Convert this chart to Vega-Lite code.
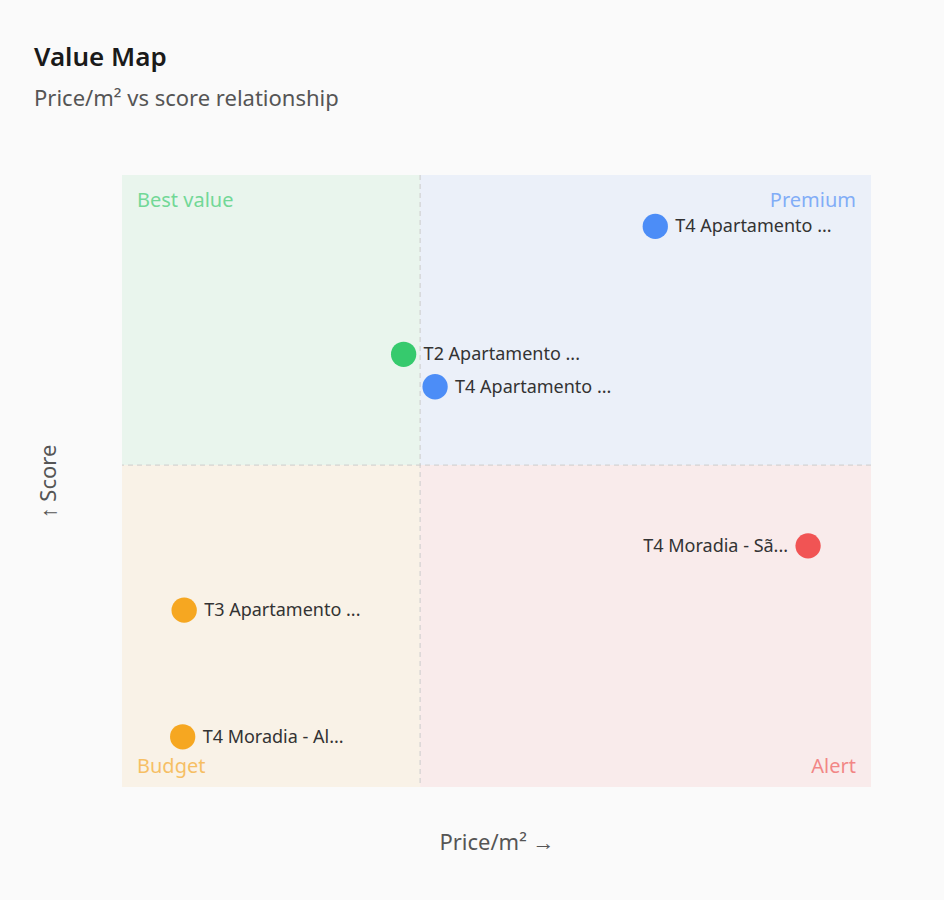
{
  "$schema": "https://vega.github.io/schema/vega-lite/v6.json",
  "width": 749,
  "height": 612,
  "autosize": {"type": "none"},
  "padding": {"left": 122, "top": 175, "right": 73, "bottom": 113},
  "background": "#fafafa",
  "title": {
    "text": "Value Map",
    "subtitle": "Price/m² vs score relationship",
    "anchor": "start",
    "frame": "group",
    "dx": -88,
    "offset": 65,
    "subtitlePadding": 18,
    "font": "Noto Sans",
    "fontSize": 26,
    "fontWeight": 600,
    "color": "#1a1a1a",
    "subtitleFont": "Noto Sans",
    "subtitleFontSize": 22,
    "subtitleFontWeight": "normal",
    "subtitleColor": "#555555"
  },
  "config": {
    "view": {"stroke": null},
    "font": "Noto Sans"
  },
  "datasets": {
    "quadrants": [
      {"quadrant": "Best value", "x1": 0, "x2": 39.8, "y1": 52.6, "y2": 100},
      {"quadrant": "Premium", "x1": 39.8, "x2": 100, "y1": 52.6, "y2": 100},
      {"quadrant": "Budget", "x1": 0, "x2": 39.8, "y1": 0, "y2": 52.6},
      {"quadrant": "Alert", "x1": 39.8, "x2": 100, "y1": 0, "y2": 52.6}
    ],
    "splits": [{"price": 39.8, "score": 52.6}],
    "points": [
      {"name": "T4 Apartamento ...", "price": 71.2, "score": 91.6, "quadrant": "Premium"},
      {"name": "T2 Apartamento ...", "price": 37.6, "score": 70.7, "quadrant": "Best value"},
      {"name": "T4 Apartamento ...", "price": 41.8, "score": 65.4, "quadrant": "Premium"},
      {"name": "T4 Moradia - Sã...", "price": 91.6, "score": 39.4, "quadrant": "Alert"},
      {"name": "T3 Apartamento ...", "price": 8.3, "score": 28.9, "quadrant": "Budget"},
      {"name": "T4 Moradia - Al...", "price": 8.1, "score": 8.2, "quadrant": "Budget"}
    ]
  },
  "layer": [
    {
      "data": {"name": "quadrants"},
      "mark": {"type": "rect", "opacity": 0.08},
      "encoding": {
        "x": {"field": "x1", "type": "quantitative", "scale": {"domain": [0, 100], "nice": false, "zero": false},
              "axis": {"title": "Price/m² →", "labels": false, "ticks": false, "domain": false, "grid": false,
                       "titleFont": "Noto Sans", "titleFontSize": 22, "titleFontWeight": "normal", "titleColor": "#555555", "titlePadding": 45}},
        "x2": {"field": "x2"},
        "y": {"field": "y1", "type": "quantitative", "scale": {"domain": [0, 100], "nice": false, "zero": false},
              "axis": {"title": "↑ Score", "labels": false, "ticks": false, "domain": false, "grid": false,
                       "titleFont": "Noto Sans", "titleFontSize": 22, "titleFontWeight": "normal", "titleColor": "#555555", "titlePadding": 62}},
        "y2": {"field": "y2"},
        "color": {"field": "quadrant", "type": "nominal", "legend": null,
                  "scale": {"domain": ["Best value", "Premium", "Budget", "Alert"], "range": ["#22c55e", "#3b82f6", "#f59e0b", "#ef4444"]}}
      }
    },
    {
      "data": {"name": "splits"},
      "mark": {"type": "rule", "color": "#cccccc", "strokeDash": [5, 4], "strokeWidth": 1},
      "encoding": {"x": {"field": "price", "type": "quantitative"}}
    },
    {
      "data": {"name": "splits"},
      "mark": {"type": "rule", "color": "#cccccc", "strokeDash": [5, 4], "strokeWidth": 1},
      "encoding": {"y": {"field": "score", "type": "quantitative"}}
    },
    {
      "data": {"name": "quadrants"},
      "transform": [{"filter": "datum.quadrant == 'Best value'"}],
      "mark": {"type": "text", "align": "left", "baseline": "middle", "dx": 15, "dy": 26, "fontSize": 20, "opacity": 0.6},
      "encoding": {"x": {"field": "x1", "type": "quantitative"}, "y": {"field": "y2", "type": "quantitative"},
                   "text": {"field": "quadrant"}, "color": {"field": "quadrant", "type": "nominal"}}
    },
    {
      "data": {"name": "quadrants"},
      "transform": [{"filter": "datum.quadrant == 'Premium'"}],
      "mark": {"type": "text", "align": "right", "baseline": "middle", "dx": -15, "dy": 26, "fontSize": 20, "opacity": 0.6},
      "encoding": {"x": {"field": "x2", "type": "quantitative"}, "y": {"field": "y2", "type": "quantitative"},
                   "text": {"field": "quadrant"}, "color": {"field": "quadrant", "type": "nominal"}}
    },
    {
      "data": {"name": "quadrants"},
      "transform": [{"filter": "datum.quadrant == 'Budget'"}],
      "mark": {"type": "text", "align": "left", "baseline": "middle", "dx": 15, "dy": -20, "fontSize": 20, "opacity": 0.6},
      "encoding": {"x": {"field": "x1", "type": "quantitative"}, "y": {"field": "y1", "type": "quantitative"},
                   "text": {"field": "quadrant"}, "color": {"field": "quadrant", "type": "nominal"}}
    },
    {
      "data": {"name": "quadrants"},
      "transform": [{"filter": "datum.quadrant == 'Alert'"}],
      "mark": {"type": "text", "align": "right", "baseline": "middle", "dx": -15, "dy": -20, "fontSize": 20, "opacity": 0.6},
      "encoding": {"x": {"field": "x2", "type": "quantitative"}, "y": {"field": "y1", "type": "quantitative"},
                   "text": {"field": "quadrant"}, "color": {"field": "quadrant", "type": "nominal"}}
    },
    {
      "data": {"name": "points"},
      "mark": {"type": "circle", "size": 640, "opacity": 0.9},
      "encoding": {"x": {"field": "price", "type": "quantitative"}, "y": {"field": "score", "type": "quantitative"},
                   "color": {"field": "quadrant", "type": "nominal"}}
    },
    {
      "data": {"name": "points"},
      "transform": [{"filter": "datum.price <= 85"}],
      "mark": {"type": "text", "align": "left", "baseline": "middle", "dx": 20, "dy": 1, "fontSize": 18, "color": "#333333"},
      "encoding": {"x": {"field": "price", "type": "quantitative"}, "y": {"field": "score", "type": "quantitative"},
                   "text": {"field": "name"}}
    },
    {
      "data": {"name": "points"},
      "transform": [{"filter": "datum.price > 85"}],
      "mark": {"type": "text", "align": "right", "baseline": "middle", "dx": -20, "dy": 1, "fontSize": 18, "color": "#333333"},
      "encoding": {"x": {"field": "price", "type": "quantitative"}, "y": {"field": "score", "type": "quantitative"},
                   "text": {"field": "name"}}
    }
  ]
}
